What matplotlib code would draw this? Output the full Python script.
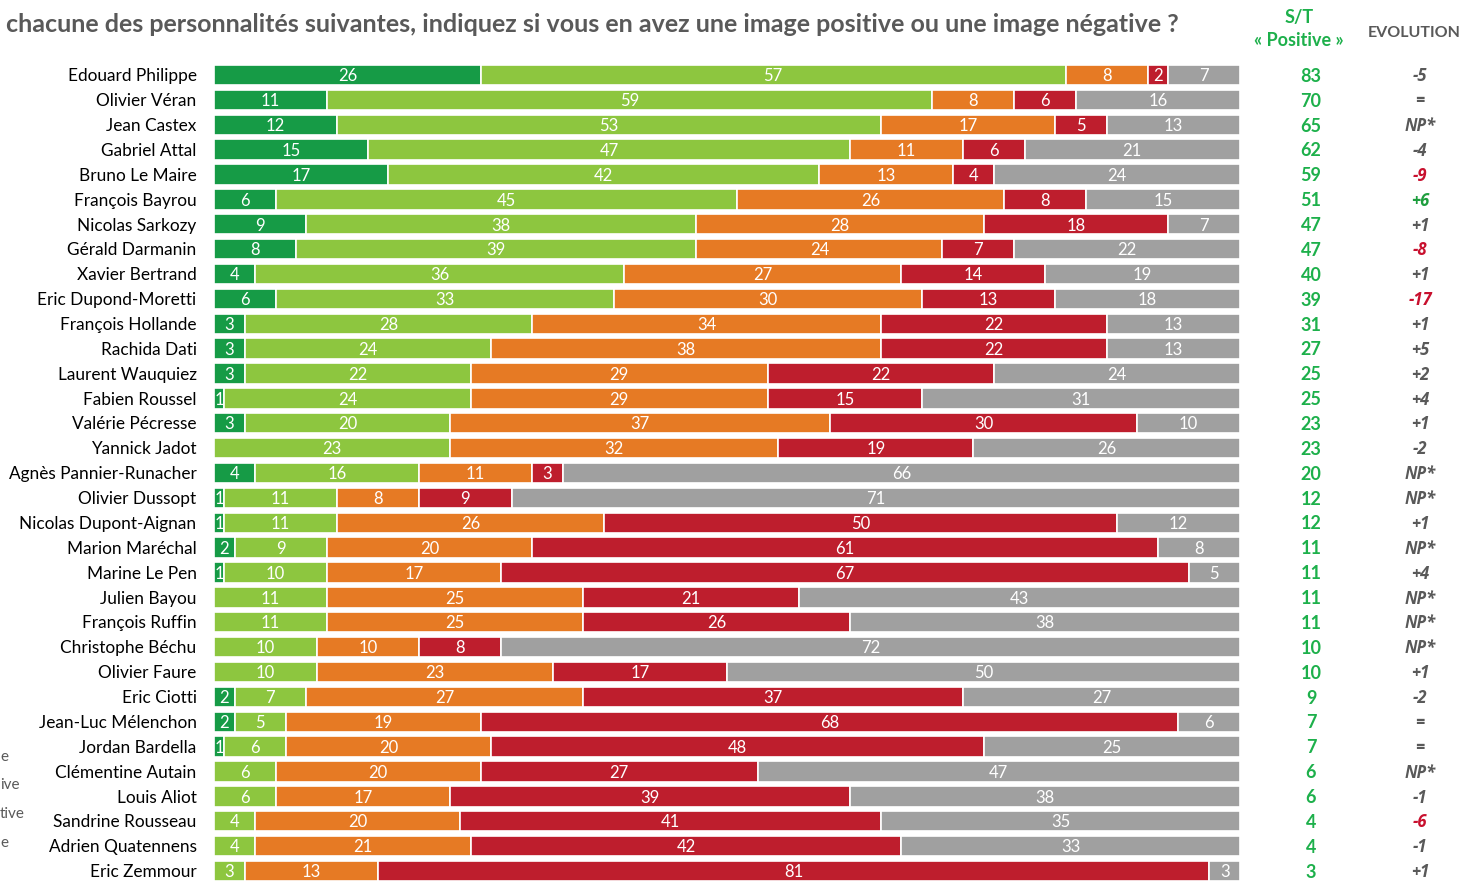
import matplotlib
matplotlib.use("Agg")
import matplotlib.pyplot as plt
import matplotlib.transforms as mtransforms
import numpy as np

plt.rcParams["font.family"] = ["Lato", "DejaVu Sans"]

names = [
    "Edouard Philippe", "Olivier Véran", "Jean Castex", "Gabriel Attal",
    "Bruno Le Maire", "François Bayrou", "Nicolas Sarkozy", "Gérald Darmanin",
    "Xavier Bertrand", "Eric Dupond-Moretti", "François Hollande", "Rachida Dati",
    "Laurent Wauquiez", "Fabien Roussel", "Valérie Pécresse", "Yannick Jadot",
    "Agnès Pannier-Runacher", "Olivier Dussopt", "Nicolas Dupont-Aignan",
    "Marion Maréchal", "Marine Le Pen", "Julien Bayou", "François Ruffin",
    "Christophe Béchu", "Olivier Faure", "Eric Ciotti", "Jean-Luc Mélenchon",
    "Jordan Bardella", "Clémentine Autain", "Louis Aliot", "Sandrine Rousseau",
    "Adrien Quatennens", "Eric Zemmour",
]
tres_positive = [26, 11, 12, 15, 17, 6, 9, 8, 4, 6, 3, 3, 3, 1, 3, 0, 4, 1, 1,
                 2, 1, 0, 0, 0, 0, 2, 2, 1, 0, 0, 0, 0, 0]
plutot_positive = [57, 59, 53, 47, 42, 45, 38, 39, 36, 33, 28, 24, 22, 24, 20, 23,
                   16, 11, 11, 9, 10, 11, 11, 10, 10, 7, 5, 6, 6, 6, 4, 4, 3]
plutot_negative = [8, 8, 17, 11, 13, 26, 28, 24, 27, 30, 34, 38, 29, 29, 37, 32,
                   11, 8, 26, 20, 17, 25, 25, 10, 23, 27, 19, 20, 20, 17, 20, 21, 13]
tres_negative = [2, 6, 5, 6, 4, 8, 18, 7, 14, 13, 22, 22, 22, 15, 30, 19, 3, 9,
                 50, 61, 67, 21, 26, 8, 17, 37, 68, 48, 27, 39, 41, 42, 81]
ne_connait_pas = [7, 16, 13, 21, 24, 15, 7, 22, 19, 18, 13, 13, 24, 31, 10, 26,
                  66, 71, 12, 8, 5, 43, 38, 72, 50, 27, 6, 25, 47, 38, 35, 33, 3]
st_positive = [83, 70, 65, 62, 59, 51, 47, 47, 40, 39, 31, 27, 25, 25, 23, 23,
               20, 12, 12, 11, 11, 11, 11, 10, 10, 9, 7, 7, 6, 6, 4, 4, 3]
evolution = ["-5", "=", "NP*", "-4", "-9", "+6", "+1", "-8", "+1", "-17", "+1",
             "+5", "+2", "+4", "+1", "-2", "NP*", "NP*", "+1", "NP*", "+4", "NP*",
             "NP*", "NP*", "+1", "-2", "=", "=", "NP*", "-1", "-6", "-1", "+1"]
legend_fragments = ["e", "ive", "tive", "e"]

series = [tres_positive, plutot_positive, plutot_negative, tres_negative, ne_connait_pas]
colors = ["#169B46", "#8DC63F", "#E67A24", "#BE1E2D", "#A0A0A0"]

W, H = 1462, 884
fig = plt.figure(figsize=(W / 100, H / 100), dpi=100)
ax = fig.add_axes([214 / W, 1 - 883.4 / H, (1240 - 214) / W, (883.4 - 62.6) / H])

n = len(names)
y = np.arange(n)
left = np.zeros(n)
for vals, col in zip(series, colors):
    vals = np.array(vals, dtype=float)
    ax.barh(y, vals, left=left, height=0.82, color=col,
            edgecolor="white", linewidth=1.2)
    for yi, (l, v) in enumerate(zip(left, vals)):
        if v > 0:
            ax.text(l + v / 2, yi + 0.05, f"{int(v)}", ha="center", va="center",
                    color="white", fontsize=12)
    left += vals

ax.set_xlim(0, 100)
ax.set_ylim(n - 0.5, -0.5)
ax.axis("off")

for yi, name in enumerate(names):
    ax.text(-1.7, yi + 0.05, name, ha="right", va="center", color="black", fontsize=12.4)

trans = mtransforms.blended_transform_factory(fig.transFigure, ax.transData)
green_txt = "#1DB04B"
for yi, (st, ev) in enumerate(zip(st_positive, evolution)):
    fig.text(1311 / W, yi + 0.05, str(st), transform=trans, ha="center", va="center",
             color=green_txt, fontsize=13, fontweight="bold")
    if ev in ("-9", "-8", "-17", "-6"):
        ecol = "#C8102E"
    elif ev == "+6":
        ecol = "#1E9E3E"
    else:
        ecol = "#595959"
    fig.text(1420 / W, yi + 0.05, ev, transform=trans, ha="center", va="center",
             color=ecol, fontsize=12, fontweight="bold", style="italic",
             family=["Open Sans", "DejaVu Sans"])

fig.text(6 / W, 1 - 24 / H,
         "chacune des personnalités suivantes, indiquez si vous en avez une image "
         "positive ou une image négative ?",
         ha="left", va="center", color="#595959", fontsize=18, fontweight="bold")
fig.text(1299 / W, 1 - 17 / H, "S/T", ha="center", va="center", color=green_txt,
         fontsize=13, fontweight="bold")
fig.text(1299 / W, 1 - 40 / H, "« Positive »", ha="center", va="center",
         color=green_txt, fontsize=13, fontweight="bold")
fig.text(1414 / W, 1 - 33 / H, "EVOLUTION", ha="center", va="center",
         color="#595959", fontsize=11.5, fontweight="bold")

for frag, yp in zip(legend_fragments, [757, 785, 814, 843]):
    fig.text(0, 1 - yp / H, frag, ha="left", va="center", color="#595959", fontsize=11)

fig.savefig("out.png", dpi=100)
